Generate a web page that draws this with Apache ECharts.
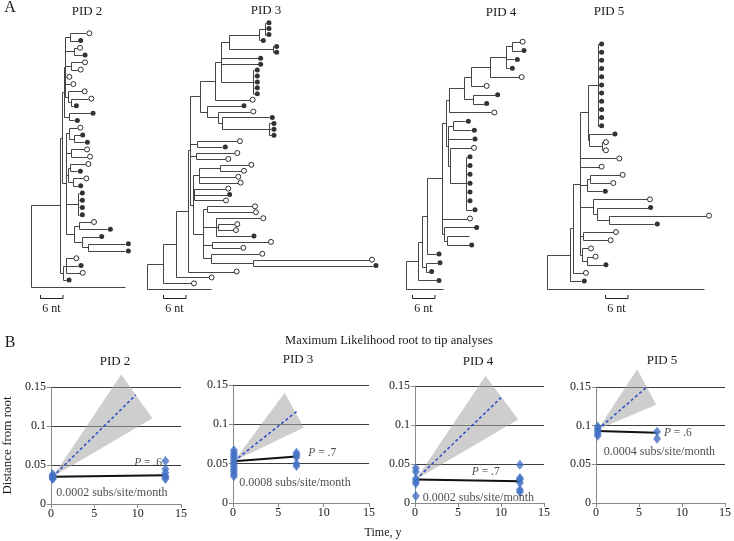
<!DOCTYPE html>
<html><head><meta charset="utf-8">
<script src="https://cdn.jsdelivr.net/npm/echarts/dist/echarts.min.js"></script>
<style>html,body{margin:0;padding:0;background:#fff}#c{width:734px;height:541px}</style>
</head><body><div id="c"></div>
<script>
// ================= DATA =================
const treeTitles = ['PID 2', 'PID 3', 'PID 4', 'PID 5'];
// Newick trees. Leaf labels: f = filled circle, o = open circle, n = no symbol.
// Branch lengths (11.5 reading units = 1 nt).
const tree2 = "((((((((o:49,f:23):15,(o:9,f:24):27,(o:33,o:20):18,o:4,o:16,(o:40,(o:52,f:7):8):10):4,(f:63,f:16):16):4," +
  "((o:25,(f:17,f:31):15):9,(o:39,o:48):15,((o:46,f:22):5,(o:30,f:13):15):7,(f:3,f:3,f:3,f:3):37,((o:36,f:85):15,(f:49,(f:111,f:111):18):25):24):11):7," +
  "((o:22,f:36,o:41):8,f:8):10):88,n:283)";
const tree3 = "(((((((((((f:3,f:3,f:3):17,f:3):90,(f:3,f:3):130):26,f:111,f:111,(f:3,f:3,f:3,f:3,f:3):98):17,o:104):45," +
  "(f:101,(o:96,(f:143,(f:7,f:7,f:7):141):10):33):22):30,(o:119,f:75):22,(o:115,o:88):18," +
  "(((o:85,o:63):63,o:109,o:116):19,(o:94,f:98,o:87):4,((o:136,o:139):10,(o:133,(o:50,o:46):5,f:105):38,(o:169,o:86):25,(o:146,(o:347,f:359):128):22):32):8):7," +
  "o:138):35,o:98):38,o:83):48,n:190)";
const tree4 = "(((((((((((((o:24,f:28):17,f:25,f:10):48,o:86):57,o:38):21,(f:64,f:31):28):44,o:126):10," +
  "((f:38,f:56):14,f:72,(o:63,(f:3,f:3,f:3,f:3,f:3,f:3,f:18):48):6):6):13,o:76,(f:89,(n:65,f:64):10):7):45,f:28):15," +
  "(f:33,f:8):13):10,f:53):37,n:112)";
const tree5 = "(((((((f:3,f:3,f:3,f:3,f:3,f:3,f:3,f:3,f:3,f:3,f:3):28,(f:68,(o:3,o:3):38):3):25,o:109,o:56," +
  "((o:89,o:61):8,f:45):22,(o:163,(f:153,(o:291,f:136):37):12):38,(o:89,o:73):10,(o:19,(o:18,f:49):15):5):20,o:29):10,f:34):68,n:471)";
const trees = [tree2, tree3, tree4, tree5];
const READ_UNITS_PER_NT = 11.5;
const scaleBarNt = 6;
const scaleBarLabel = '6 nt';

// Part B: root-to-tip distances
const panelTitles = ['PID 2', 'PID 3', 'PID 4', 'PID 5'];
const pid2Times = [0.2, 13.2];
const pid2Base = [0.038, 0.036, 0.035, 0.034, 0.033, 0.032];
const pid2Follow = [0.055, 0.045, 0.040, 0.036, 0.034, 0.032];
const pid2Fit = [[0.2, 0.035], [13.2, 0.037]];
const pid2Expected = [[0.2, 0.035], [9.8, 0.14]];
const pid2Band = [[0.2, 0.035], [8.1, 0.166], [11.7, 0.11]];

const pid3Times = [0.1, 7.0];
const pid3Base = [0.067, 0.064, 0.061, 0.058, 0.055, 0.052, 0.049, 0.046, 0.043, 0.040, 0.037, 0.034];
const pid3Follow = [0.064, 0.061, 0.058, 0.050, 0.047];
const pid3Fit = [[0.1, 0.053], [7.0, 0.059]];
const pid3Expected = [[0.1, 0.053], [7.2, 0.118]];
const pid3Band = [[0.1, 0.053], [5.7, 0.14], [7.8, 0.096]];

const pid4Times = [0.1, 12.2];
const pid4Base = [0.045, 0.040, 0.031, 0.028, 0.025, 0.009];
const pid4Follow = [0.049, 0.032, 0.030, 0.026, 0.017, 0.014];
const pid4Fit = [[0.1, 0.030], [12.2, 0.028]];
const pid4Expected = [[0.1, 0.030], [10.0, 0.135]];
const pid4Band = [[0.1, 0.030], [8.2, 0.163], [12.0, 0.107]];

const pid5Times = [0.2, 7.1];
const pid5Base = [0.099, 0.096, 0.093, 0.090, 0.087];
const pid5Follow = [0.092, 0.083];
const pid5Fit = [[0.2, 0.093], [7.1, 0.091]];
const pid5Expected = [[0.2, 0.095], [5.9, 0.15]];
const pid5Band = [[0.2, 0.095], [4.8, 0.173], [7.0, 0.127]];

const rateLabels = ['0.0002 subs/site/month', '0.0008 subs/site/month', '0.0002 subs/site/month', '0.0004 subs/site/month'];
const pValues = ['.6', '.7', '.7', '.6'];
const xTicks = [0, 15, 5];      // min, max, interval (years)
const yTicks = [0, 0.15, 0.05]; // min, max, interval

// ================= LAYOUT / STYLE =================
const SERIF = '"Liberation Serif", "DejaVu Serif", serif';
const TXT = '#1a1a1a';
const PX_PER_NT = READ_UNITS_PER_NT / 3;
const treeLayout = [
  { rootX: 30.7, top: 33.3, bottom: 287.3, titleX: 87, titleY: 12, barX: 40, barY: 298 },
  { rootX: 147.3, top: 22.7, bottom: 289.3, titleX: 266, titleY: 11, barX: 163, barY: 298 },
  { rootX: 406, top: 41.7, bottom: 289.3, titleX: 501, titleY: 13, barX: 412, barY: 298 },
  { rootX: 547.3, top: 44, bottom: 289.3, titleX: 609, titleY: 12, barX: 605, barY: 298 }
];
const plotLayout = [
  { left: 49, top: 387, width: 132, height: 117, titleX: 115, titleY: 362, pPos: [9.6, 0.053], rPos: [0.6, 0.0145] },
  { left: 233, top: 385, width: 136, height: 118, titleX: 298, titleY: 360, pPos: [8.3, 0.064], rPos: [0.7, 0.026] },
  { left: 415, top: 386, width: 129, height: 117, titleX: 478, titleY: 362, pPos: [6.6, 0.040], rPos: [0.9, 0.007] },
  { left: 596, top: 387, width: 133, height: 116, titleX: 662, titleY: 361, pPos: [7.9, 0.091], rPos: [0.9, 0.066] }
];

// ================= BUILD =================
function parseNewick(str) {
  const s = str.replace(/\s+/g, '');
  let i = 0;
  function node() {
    const n = { children: [], label: null, len: 0 };
    if (s[i] === '(') {
      i++;
      n.children.push(node());
      while (s[i] === ',') { i++; n.children.push(node()); }
      i++;
    } else {
      let lab = '';
      while (i < s.length && /[a-z]/.test(s[i])) lab += s[i++];
      n.label = lab;
    }
    if (s[i] === ':') {
      i++;
      let num = '';
      while (i < s.length && /[0-9.]/.test(s[i])) num += s[i++];
      n.len = parseFloat(num);
    }
    return n;
  }
  return node();
}
function layoutTree(root) {
  const segs = [], filled = [], open = [];
  let leaf = 0, maxX = 0;
  (function rec(n, parentX, isRoot) {
    const x = parentX + n.len / READ_UNITS_PER_NT;
    if (n.children.length === 0) {
      n.y = leaf++;
      if (n.label === 'f') filled.push([x, n.y]);
      else if (n.label === 'o') open.push([x, n.y]);
    } else {
      n.children.forEach(c => rec(c, x, false));
      const a = n.children[0].y, b = n.children[n.children.length - 1].y;
      n.y = (a + b) / 2;
      segs.push([x, a, x, b]);
    }
    if (!isRoot) segs.push([parentX, n.y, x, n.y]);
    maxX = Math.max(maxX, x);
  })(root, 0, true);
  return { segs, filled, open, maxX, nLeaves: leaf };
}
const crisp = v => Math.round(v) + 0.5;
function segRender(params, api) {
  const p1 = api.coord([api.value(0), api.value(1)]);
  const p2 = api.coord([api.value(2), api.value(3)]);
  return { type: 'line', shape: { x1: crisp(p1[0]), y1: crisp(p1[1]), x2: crisp(p2[0]), y2: crisp(p2[1]) },
    style: { stroke: '#454545', lineWidth: 1 } };
}

const grids = [], xAxes = [], yAxes = [], series = [], graphics = [];

trees.forEach((t, i) => {
  const L = layoutTree(parseNewick(t));
  const g = treeLayout[i];
  grids.push({ left: g.rootX, top: g.top, width: L.maxX * PX_PER_NT, height: g.bottom - g.top });
  xAxes.push({ type: 'value', gridIndex: i, min: 0, max: L.maxX, show: false });
  yAxes.push({ type: 'value', gridIndex: i, min: 0, max: L.nLeaves - 1, inverse: true, show: false });
  series.push({ type: 'custom', xAxisIndex: i, yAxisIndex: i, data: L.segs, renderItem: segRender, silent: true, z: 2 });
  series.push({ type: 'scatter', xAxisIndex: i, yAxisIndex: i, data: L.filled, symbol: 'circle', symbolSize: 5,
    symbolOffset: [3, 0], itemStyle: { color: '#000' }, silent: true, z: 3 });
  series.push({ type: 'scatter', xAxisIndex: i, yAxisIndex: i, data: L.open, symbol: 'circle', symbolSize: 5,
    symbolOffset: [3, 0], itemStyle: { color: '#fff', borderColor: '#000', borderWidth: 1 }, silent: true, z: 3 });
  graphics.push({ type: 'text', x: g.titleX, y: g.titleY, style: { text: treeTitles[i], font: '13px ' + SERIF, fill: TXT, textAlign: 'center', textVerticalAlign: 'middle' } });
  const barLen = scaleBarNt * PX_PER_NT;
  graphics.push({ type: 'polyline', shape: { points: [[g.barX + 0.5, g.barY - 3], [g.barX + 0.5, g.barY + 0.5], [g.barX + barLen, g.barY + 0.5], [g.barX + barLen, g.barY - 3]] },
    style: { stroke: '#222', lineWidth: 1, fill: null } });
  graphics.push({ type: 'text', x: g.barX + barLen / 2, y: g.barY + 11, style: { text: scaleBarLabel, font: '12px ' + SERIF, fill: TXT, textAlign: 'center', textVerticalAlign: 'middle' } });
});

const panels = [
  [pid2Times, pid2Base, pid2Follow, pid2Fit, pid2Expected, pid2Band],
  [pid3Times, pid3Base, pid3Follow, pid3Fit, pid3Expected, pid3Band],
  [pid4Times, pid4Base, pid4Follow, pid4Fit, pid4Expected, pid4Band],
  [pid5Times, pid5Base, pid5Follow, pid5Fit, pid5Expected, pid5Band]
];
const axisGray = '#8a8a8a';
panels.forEach((p, j) => {
  const [times, base, follow, fit, expected, band] = p;
  const k = 4 + j, g = plotLayout[j];
  grids.push({ left: g.left, top: g.top, width: g.width, height: g.height });
  xAxes.push({ type: 'value', gridIndex: k, min: xTicks[0], max: xTicks[1], interval: xTicks[2],
    axisLine: { show: true, lineStyle: { color: axisGray } }, axisTick: { show: true, length: 4, lineStyle: { color: axisGray } },
    axisLabel: { fontFamily: SERIF, fontSize: 12, color: TXT, margin: 4 }, splitLine: { show: false } });
  yAxes.push({ type: 'value', gridIndex: k, min: yTicks[0], max: yTicks[1], interval: yTicks[2],
    name: j === 0 ? 'Distance from root' : '', nameLocation: 'middle', nameRotate: 90, nameGap: 37,
    nameTextStyle: { fontFamily: SERIF, fontSize: 13, color: TXT },
    axisLine: { show: true, lineStyle: { color: axisGray } }, axisTick: { show: true, length: 4, lineStyle: { color: axisGray } },
    axisLabel: { fontFamily: SERIF, fontSize: 12, color: TXT, margin: 5, formatter: v => String(+v.toFixed(2)) },
    splitLine: { show: true, lineStyle: { color: '#3c3c3c', width: 1 } } });
  series.push({ type: 'custom', xAxisIndex: k, yAxisIndex: k, data: band, clip: false, silent: true, z: 1,
    renderItem: (params, api) => params.dataIndex === 0 ? { type: 'polygon', shape: { points: band.map(pt => api.coord(pt)) },
      style: { fill: 'rgba(165,165,165,0.55)' } } : null });
  series.push({ type: 'line', xAxisIndex: k, yAxisIndex: k, data: expected, symbol: 'none', clip: false, silent: true, z: 2,
    lineStyle: { color: '#3050c8', width: 1.6, type: [3, 2.5] } });
  series.push({ type: 'line', xAxisIndex: k, yAxisIndex: k, data: fit, symbol: 'none', clip: false, silent: true, z: 3,
    lineStyle: { color: '#111', width: 2 } });
  const pts = base.map(v => [times[0], v]).concat(follow.map(v => [times[1], v]));
  series.push({ type: 'scatter', xAxisIndex: k, yAxisIndex: k, data: pts, symbol: 'diamond', symbolSize: [8, 10],
    itemStyle: { color: '#4472c4' }, silent: true, z: 4 });
  series.push({ type: 'scatter', xAxisIndex: k, yAxisIndex: k, symbolSize: 0, silent: true, z: 5, zlevel: 1,
    data: [{ value: g.pPos, label: { formatter: '{i|P} = ' + pValues[j], fontSize: 11.5 } }, { value: g.rPos, label: { formatter: rateLabels[j] } }],
    label: { show: true, position: 'right', distance: 0, fontFamily: SERIF, fontSize: 12, color: TXT,
      rich: { i: { fontStyle: 'italic', fontFamily: SERIF, fontSize: 11.5, color: TXT } } } });
  graphics.push({ type: 'text', x: g.titleX, y: g.titleY, style: { text: panelTitles[j], font: '13px ' + SERIF, fill: TXT, textAlign: 'center', textVerticalAlign: 'middle' } });
});

graphics.push({ type: 'text', x: 10, y: 8, style: { text: 'A', font: '16px ' + SERIF, fill: TXT, textAlign: 'center', textVerticalAlign: 'middle' } });
graphics.push({ type: 'text', x: 10, y: 343, style: { text: 'B', font: '16px ' + SERIF, fill: TXT, textAlign: 'center', textVerticalAlign: 'middle' } });
graphics.push({ type: 'text', x: 389, y: 341, style: { text: 'Maximum Likelihood root to tip analyses', font: '12.5px ' + SERIF, fill: TXT, textAlign: 'center', textVerticalAlign: 'middle' } });
graphics.push({ type: 'text', x: 383, y: 533, style: { text: 'Time, y', font: '12px ' + SERIF, fill: TXT, textAlign: 'center', textVerticalAlign: 'middle' } });

const chart = echarts.init(document.getElementById('c'), null, { renderer: 'canvas' });
chart.setOption({
  animation: false,
  backgroundColor: '#fff',
  grid: grids, xAxis: xAxes, yAxis: yAxes, series: series,
  graphic: { elements: graphics }
});
</script></body></html>
